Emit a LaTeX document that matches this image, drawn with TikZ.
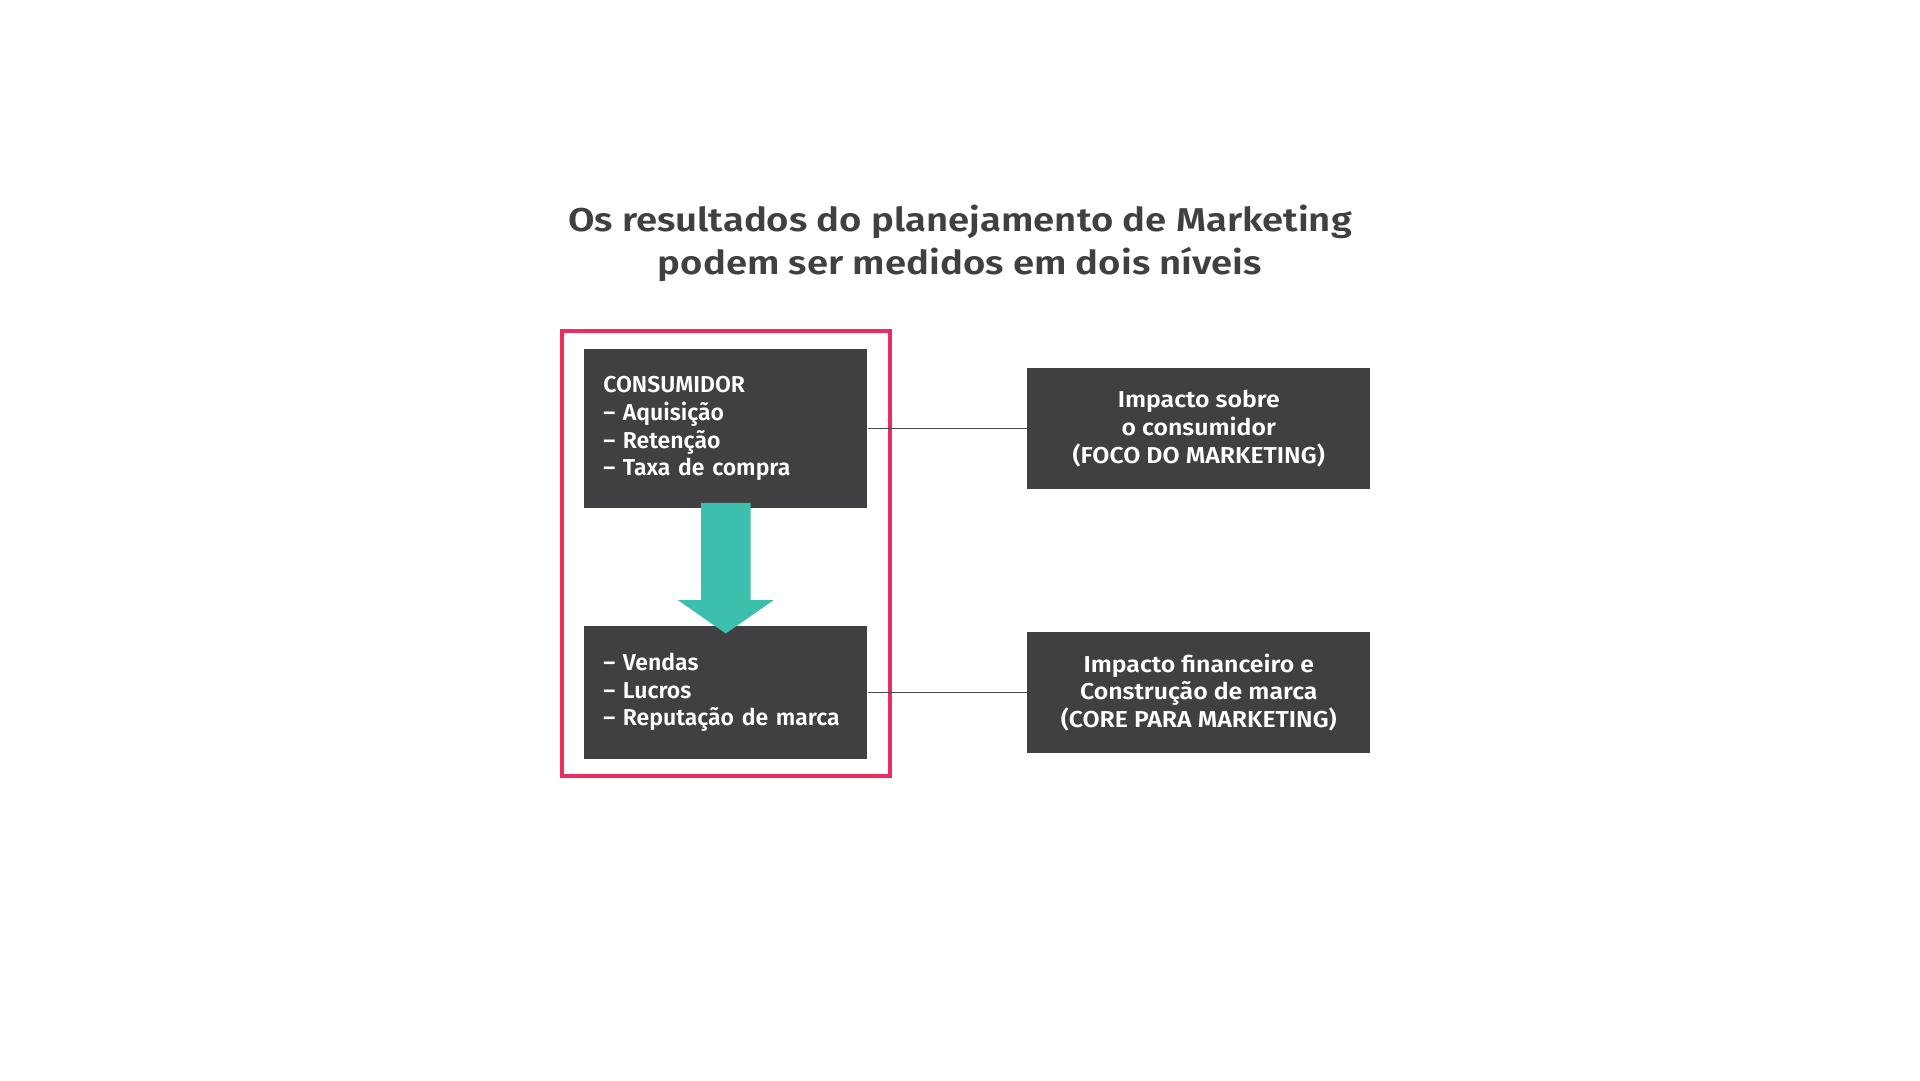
\documentclass[tikz,border=0pt]{standalone}
\usepackage{fontspec}
\setmainfont{Fira Sans}[BoldFont={Fira Sans SemiBold}]
\newfontfamily\titlefont{Fira Sans SemiBold}[FakeStretch=1.16]
\newfontfamily\impactfont{Fira Sans SemiBold}[FakeStretch=1.08]
\usetikzlibrary{positioning}

\definecolor{boxgray}{RGB}{64,64,66}
\definecolor{framered}{RGB}{237,43,94}
\definecolor{arrowteal}{RGB}{61,191,173}
\definecolor{linegray}{RGB}{72,72,74}

\tikzset{%
  darkbox/.style={rectangle, fill=boxgray, text=white, inner ysep=0pt,
    font=\bfseries\fontsize{23}{27.8}\selectfont},
  listbox/.style={darkbox, minimum width=283pt, text width=245pt,
    inner xsep=19pt, align=left},
  impactbox/.style={darkbox, minimum width=343.3pt, minimum height=121pt,
    inner xsep=0pt, align=center, font=\impactfont\fontsize{23}{27.8}\selectfont},
  link/.style={draw=linegray, line width=1.3pt},
}

\begin{document}
\begin{tikzpicture}[x=1pt, y=1pt]
  \useasboundingbox[fill=white] (0,0) rectangle (1920,1081);
  \node[font=\titlefont\fontsize{33}{43.5}\selectfont, text=boxgray, align=center]
    (title) at (960, 837.5) {Os resultados do planejamento de Marketing\\podem ser medidos em dois níveis};
  % red frame round the left column
  \node[draw=framered, line width=4pt, minimum width=328.3pt, minimum height=445pt,
    inner sep=0pt] (frame) at (726.2, 527.2) {};
  \node[listbox, minimum height=158.4pt] (cons) at (725.8, 652.5)
    {CONSUMIDOR\\– Aquisição\\– Retenção\\– Taxa de compra};
  \node[listbox, minimum height=132.6pt, below=118pt of cons] (res)
    {– Vendas\\– Lucros\\– Reputação de marca};
  \node[impactbox, right=159.4pt of cons] (foco)
    {Impacto sobre\\o consumidor\\(FOCO DO MARKETING)};
  \node[impactbox, right=159.4pt of res] (core)
    {Impacto financeiro e\\Construção de marca\\(CORE PARA MARKETING)};
  \draw[link] (cons) -- (foco);
  \draw[link] (res) -- (core);
  % block arrow
  \fill[arrowteal] ([xshift=-24.8pt, yshift=5pt]cons.south) -- ++(0,-97.3) -- ++(-23,0)
    -- ([yshift=-7.6pt]res.north) -- ++(47.8,33.3) -- ++(-23,0) -- ++(0,97.3) -- cycle;
\end{tikzpicture}
\end{document}
